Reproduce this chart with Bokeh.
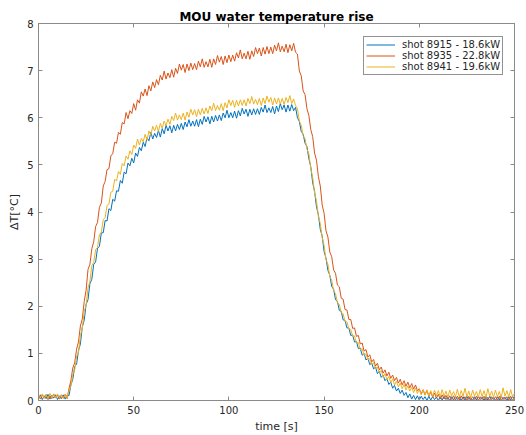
from bokeh.plotting import figure
from bokeh.models import LinearAxis, Range1d, Legend, LegendItem, FixedTicker
from bokeh.embed import file_html
from bokeh.resources import INLINE

# ---------------- data (1 s sampling) ----------------
time_s = list(range(0, 251))

shot_8915 = [  # 18.6 kW (blue)
    0.05, 0.12, 0.02, 0.10, 0.04, 0.13, 0.03, 0.11, 0.05, 0.12,
    0.02, 0.10, 0.04, 0.12, 0.03, 0.11, 0.10, 0.33, 0.45, 0.72,
    0.77, 1.06, 1.20, 1.56, 1.70, 2.04, 2.14, 2.48, 2.57, 2.89,
    2.94, 3.23, 3.27, 3.56, 3.56, 3.82, 3.81, 4.07, 4.03, 4.27,
    4.23, 4.45, 4.44, 4.67, 4.61, 4.85, 4.81, 5.04, 4.98, 5.14,
    5.04, 5.25, 5.18, 5.37, 5.30, 5.48, 5.39, 5.58, 5.51, 5.69,
    5.55, 5.67, 5.58, 5.73, 5.59, 5.77, 5.66, 5.84, 5.72, 5.83,
    5.68, 5.84, 5.72, 5.86, 5.75, 5.88, 5.75, 5.91, 5.81, 5.96,
    5.82, 5.93, 5.82, 5.96, 5.81, 5.97, 5.86, 6.03, 5.91, 6.02,
    5.87, 6.03, 5.91, 6.05, 5.93, 6.06, 5.94, 6.10, 6.00, 6.16,
    6.00, 6.11, 6.00, 6.14, 5.99, 6.15, 6.04, 6.20, 6.08, 6.18,
    6.03, 6.18, 6.06, 6.19, 6.07, 6.19, 6.07, 6.22, 6.12, 6.27,
    6.11, 6.21, 6.11, 6.24, 6.08, 6.25, 6.13, 6.30, 6.17, 6.27,
    6.12, 6.27, 6.14, 6.28, 6.15, 6.22, 6.00, 5.92, 5.71, 5.65,
    5.46, 5.39, 5.13, 4.96, 4.62, 4.44, 4.11, 3.94, 3.63, 3.49,
    3.16, 3.02, 2.76, 2.66, 2.42, 2.36, 2.14, 2.10, 1.91, 1.89,
    1.71, 1.70, 1.54, 1.54, 1.38, 1.39, 1.24, 1.25, 1.10, 1.11,
    0.96, 1.00, 0.86, 0.90, 0.76, 0.80, 0.67, 0.71, 0.57, 0.62,
    0.49, 0.54, 0.42, 0.47, 0.34, 0.39, 0.26, 0.32, 0.20, 0.26,
    0.15, 0.22, 0.11, 0.17, 0.06, 0.14, 0.03, 0.11, 0.02, 0.10,
    0.01, 0.09, 0.02, 0.08, 0.00, 0.09, 0.01, 0.08, 0.02, 0.07,
    0.00, 0.08, 0.01, 0.09, 0.02, 0.07, 0.00, 0.08, 0.01, 0.09,
    0.02, 0.07, 0.00, 0.08, 0.01, 0.09, 0.02, 0.06, 0.00, 0.08,
    0.01, 0.09, 0.02, 0.07, 0.00, 0.08, 0.01, 0.09, 0.02, 0.06,
    0.00, 0.08, 0.01, 0.09, 0.02, 0.07, 0.00, 0.08, 0.01, 0.09,
    0.03,
]

shot_8935 = [  # 22.8 kW (red)
    0.09, 0.03, 0.12, 0.05, 0.13, 0.02, 0.10, 0.04, 0.14, 0.06,
    0.11, 0.03, 0.12, 0.05, 0.13, 0.04, 0.25, 0.42, 0.69, 0.80,
    1.09, 1.24, 1.58, 1.73, 2.10, 2.34, 2.78, 2.89, 3.22, 3.37,
    3.69, 3.78, 4.10, 4.19, 4.55, 4.65, 4.90, 4.92, 5.19, 5.24,
    5.48, 5.46, 5.69, 5.65, 5.90, 5.87, 6.11, 5.98, 6.15, 6.09,
    6.30, 6.16, 6.38, 6.31, 6.55, 6.46, 6.61, 6.47, 6.68, 6.57,
    6.76, 6.64, 6.81, 6.70, 6.90, 6.80, 6.99, 6.82, 6.95, 6.85,
    7.02, 6.86, 7.05, 6.94, 7.14, 7.01, 7.13, 6.96, 7.14, 7.00,
    7.16, 7.02, 7.15, 7.02, 7.20, 7.08, 7.25, 7.07, 7.19, 7.08,
    7.24, 7.07, 7.25, 7.13, 7.32, 7.18, 7.30, 7.13, 7.31, 7.17,
    7.33, 7.19, 7.33, 7.20, 7.38, 7.27, 7.44, 7.25, 7.37, 7.25,
    7.41, 7.24, 7.42, 7.30, 7.49, 7.36, 7.48, 7.31, 7.49, 7.35,
    7.51, 7.36, 7.50, 7.36, 7.54, 7.42, 7.59, 7.40, 7.52, 7.40,
    7.56, 7.38, 7.55, 7.42, 7.58, 7.39, 7.35, 6.99, 6.89, 6.57,
    6.49, 6.19, 6.05, 5.75, 5.60, 5.25, 5.10, 4.75, 4.55, 4.15,
    3.97, 3.60, 3.47, 3.15, 3.05, 2.77, 2.70, 2.45, 2.41, 2.17,
    2.15, 1.93, 1.92, 1.72, 1.72, 1.53, 1.54, 1.36, 1.38, 1.20,
    1.22, 1.05, 1.08, 0.92, 0.97, 0.82, 0.87, 0.73, 0.79, 0.65,
    0.71, 0.58, 0.65, 0.52, 0.60, 0.47, 0.54, 0.42, 0.49, 0.37,
    0.45, 0.33, 0.42, 0.30, 0.39, 0.27, 0.36, 0.24, 0.33, 0.21,
    0.25, 0.14, 0.23, 0.12, 0.21, 0.09, 0.18, 0.07, 0.16, 0.05,
    0.13, 0.03, 0.12, 0.03, 0.11, 0.02, 0.10, 0.02, 0.10, 0.01,
    0.09, 0.01, 0.10, 0.02, 0.08, 0.00, 0.09, 0.01, 0.08, 0.02,
    0.09, 0.00, 0.08, 0.02, 0.09, 0.01, 0.07, 0.00, 0.08, 0.02,
    0.08, 0.01, 0.09, 0.00, 0.07, 0.02, 0.08, 0.01, 0.09, 0.00,
    0.06,
]

shot_8941 = [  # 19.6 kW (yellow)
    0.13, 0.06, 0.14, 0.05, 0.12, 0.04, 0.15, 0.06, 0.13, 0.05,
    0.14, 0.06, 0.12, 0.04, 0.13, 0.06, 0.20, 0.31, 0.55, 0.64,
    0.94, 1.01, 1.38, 1.53, 1.89, 2.02, 2.39, 2.53, 2.86, 2.93,
    3.20, 3.25, 3.52, 3.57, 3.84, 3.88, 4.14, 4.17, 4.42, 4.44,
    4.69, 4.66, 4.86, 4.80, 5.03, 4.98, 5.19, 5.12, 5.30, 5.22,
    5.42, 5.35, 5.55, 5.42, 5.56, 5.49, 5.65, 5.52, 5.72, 5.63,
    5.82, 5.72, 5.84, 5.71, 5.88, 5.78, 5.93, 5.83, 5.97, 5.86,
    6.03, 5.94, 6.10, 5.95, 6.06, 5.96, 6.10, 5.95, 6.12, 6.01,
    6.18, 6.06, 6.17, 6.02, 6.18, 6.06, 6.20, 6.08, 6.21, 6.09,
    6.25, 6.15, 6.31, 6.15, 6.26, 6.16, 6.30, 6.15, 6.32, 6.21,
    6.38, 6.26, 6.37, 6.22, 6.37, 6.25, 6.38, 6.26, 6.38, 6.25,
    6.41, 6.30, 6.45, 6.29, 6.39, 6.28, 6.41, 6.26, 6.42, 6.30,
    6.46, 6.33, 6.43, 6.27, 6.42, 6.29, 6.42, 6.29, 6.41, 6.28,
    6.43, 6.32, 6.47, 6.30, 6.40, 6.26, 6.19, 5.93, 5.84, 5.62,
    5.56, 5.33, 5.24, 4.92, 4.74, 4.40, 4.24, 3.91, 3.76, 3.46,
    3.29, 2.99, 2.89, 2.63, 2.55, 2.33, 2.27, 2.07, 2.04, 1.86,
    1.84, 1.67, 1.67, 1.51, 1.51, 1.36, 1.37, 1.22, 1.23, 1.08,
    1.10, 0.96, 0.99, 0.86, 0.89, 0.76, 0.80, 0.68, 0.71, 0.59,
    0.64, 0.50, 0.57, 0.44, 0.51, 0.38, 0.46, 0.33, 0.41, 0.29,
    0.37, 0.25, 0.34, 0.22, 0.31, 0.20, 0.28, 0.17, 0.26, 0.15,
    0.24, 0.12, 0.22, 0.11, 0.23, 0.10, 0.21, 0.09, 0.22, 0.10,
    0.21, 0.08, 0.23, 0.09, 0.20, 0.07, 0.22, 0.10, 0.19, 0.08,
    0.24, 0.07, 0.21, 0.09, 0.26, 0.08, 0.20, 0.06, 0.22, 0.09,
    0.19, 0.07, 0.23, 0.08, 0.21, 0.06, 0.25, 0.09, 0.20, 0.07,
    0.22, 0.08, 0.19, 0.06, 0.27, 0.09, 0.21, 0.07, 0.23, 0.08,
    0.15,
]

series_labels = ["shot 8915 - 18.6kW", "shot 8935 - 22.8kW", "shot 8941 - 19.6kW"]
series_colors = ["#0072BD", "#D95319", "#EDB120"]
x_ticks = [0, 50, 100, 150, 200, 250]
y_ticks = [0, 1, 2, 3, 4, 5, 6, 7, 8]

FONT = "DejaVu Sans"
AX_COLOR = "#8a8a8a"
TXT_COLOR = "#262626"

p = figure(width=526, height=435, output_backend="svg", toolbar_location=None,
           x_range=Range1d(0, 250), y_range=Range1d(0, 8),
           min_border_left=38, min_border_right=12, min_border_top=23,
           min_border_bottom=35, background_fill_color="white",
           border_fill_color="white")

p.title.text = "MOU water temperature rise"
p.title.align = "center"
p.title.text_font = FONT
p.title.text_font_size = "12px"
p.title.text_font_style = "bold"
p.title.text_color = "#000000"
p.title.standoff = 0
p.title.offset = 0

p.grid.visible = False
p.outline_line_color = AX_COLOR
p.outline_line_width = 1

p.xaxis.ticker = FixedTicker(ticks=x_ticks)
p.yaxis.ticker = FixedTicker(ticks=y_ticks)
p.xaxis.axis_label = "time [s]"
p.yaxis.axis_label = "ΔT[°C]"

for ax in [p.xaxis[0], p.yaxis[0]]:
    ax.axis_line_color = AX_COLOR
    ax.major_tick_line_color = AX_COLOR
    ax.major_tick_in = 4
    ax.major_tick_out = 0
    ax.minor_tick_line_color = None
    ax.major_label_text_font = FONT
    ax.major_label_text_font_size = "10px"
    ax.major_label_text_color = TXT_COLOR
    ax.axis_label_text_font = FONT
    ax.axis_label_text_font_size = "11px"
    ax.axis_label_text_font_style = "normal"
    ax.axis_label_text_color = TXT_COLOR
p.xaxis.major_label_standoff = 5
p.xaxis.axis_label_standoff = 3
p.yaxis.major_label_standoff = 5
p.yaxis.axis_label_standoff = 3

# box ticks on top and right
for ticks, side in [(x_ticks, "above"), (y_ticks, "right")]:
    ax = LinearAxis(ticker=FixedTicker(ticks=ticks))
    ax.axis_line_color = AX_COLOR
    ax.major_tick_line_color = AX_COLOR
    ax.major_tick_in = 4
    ax.major_tick_out = 0
    ax.minor_tick_line_color = None
    ax.major_label_text_font_size = "0px"
    ax.major_label_standoff = 0
    p.add_layout(ax, side)

renderers = []
for ys, col in zip([shot_8915, shot_8935, shot_8941], series_colors):
    r = p.line(time_s, ys, line_color=col, line_width=1)
    renderers.append(r)

legend = Legend(items=[LegendItem(label=lab, renderers=[r])
                       for lab, r in zip(series_labels, renderers)])
legend.location = (325, 325)
legend.border_line_color = "#262626"
legend.border_line_width = 0.6
legend.background_fill_color = "white"
legend.background_fill_alpha = 1
legend.label_text_font = FONT
legend.label_text_font_size = "10px"
legend.label_text_color = TXT_COLOR
legend.glyph_width = 29
legend.glyph_height = 11
legend.label_height = 11
legend.spacing = 0
legend.padding = 2
legend.margin = 0
legend.label_standoff = 7
p.add_layout(legend)

open("out.html", "w").write(file_html(p, INLINE))
